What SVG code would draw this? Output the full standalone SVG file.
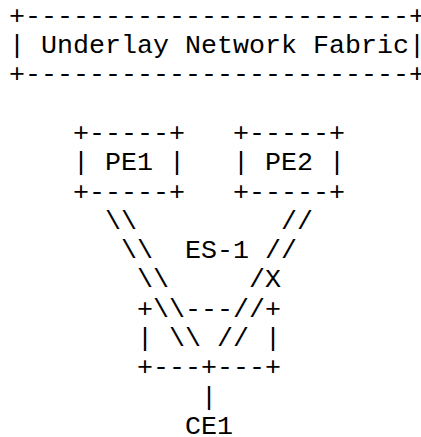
<svg xmlns="http://www.w3.org/2000/svg" width="421" height="437" viewBox="0 0 421 437">
  <style>
    text { font-family: "Liberation Mono", "Courier New", monospace; font-size: 26.67px; fill: #000; white-space: pre; }
  </style>
  <rect width="421" height="437" fill="#fff"/>
  <!-- character grid: column c starts at x = 9 + 16c, row r baseline at y = 23.7 + 29.3r -->
  <g id="underlay">
    <text x="9" y="23.7">+------------------------+</text>
    <text x="9" y="53">| Underlay Network Fabric|</text>
    <text x="9" y="82.3">+------------------------+</text>
  </g>
  <g id="pe1">
    <text x="73" y="140.9">+-----+</text>
    <text x="73" y="170.2">| PE1 |</text>
    <text x="73" y="199.5">+-----+</text>
  </g>
  <g id="pe2">
    <text x="233" y="140.9">+-----+</text>
    <text x="233" y="170.2">| PE2 |</text>
    <text x="233" y="199.5">+-----+</text>
  </g>
  <g id="es1">
    <text x="185" y="258.1">ES-1</text>
    <text x="265" y="287.4">X</text>
    <text x="137" y="316.7">+</text>
    <text x="185" y="316.7">---</text>
    <text x="265" y="316.7">+</text>
    <text x="137" y="346">|</text>
    <text x="265" y="346">|</text>
    <text x="137" y="375.3">+---+---+</text>
  </g>
  <g id="ce1">
    <text x="185" y="433.9">CE1</text>
  </g>
  <g id="connectors">
    <text x="105" y="228.8">\\</text>
    <text x="281" y="228.8">//</text>
    <text x="121" y="258.1">\\</text>
    <text x="265" y="258.1">//</text>
    <text x="137" y="287.4">\\</text>
    <text x="249" y="287.4">/</text>
    <text x="153" y="316.7">\\</text>
    <text x="233" y="316.7">//</text>
    <text x="169" y="346">\\</text>
    <text x="217" y="346">//</text>
    <text x="201" y="404.6">|</text>
  </g>
</svg>
